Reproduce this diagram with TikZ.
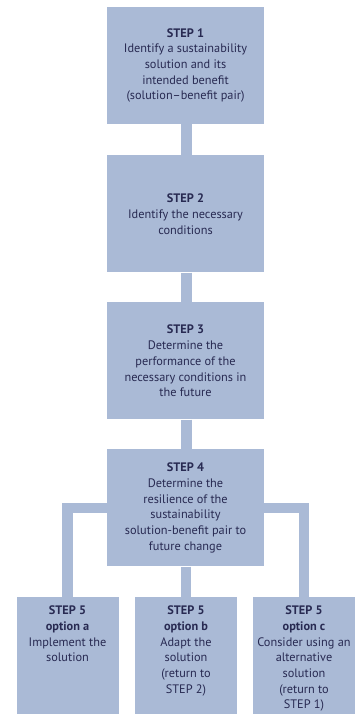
\documentclass[tikz,border=0pt]{standalone}
\usepackage{fontspec}
\setmainfont{PT Sans}
\definecolor{boxblue}{RGB}{170,186,214}
\definecolor{txtnavy}{RGB}{40,42,82}
\begin{document}
\begin{tikzpicture}[x=1pt,y=1pt,
  mainbox/.style={fill=boxblue, draw=none, minimum width=157pt, minimum height=117pt, inner sep=0pt,
    align=center, text=txtnavy, font=\fontsize{12.3}{15.7}\selectfont},
  optbox/.style={fill=boxblue, draw=none, minimum width=102pt, minimum height=117pt, inner sep=0pt},
  opttxt/.style={anchor=north, align=center, text=txtnavy, inner sep=0pt, font=\fontsize{12.3}{15.7}\selectfont},
  conn/.style={draw=boxblue, line width=10.5pt, line cap=butt, line join=miter}
]
\useasboundingbox (0,0) rectangle (357,714);
\node[mainbox] (s1) at (185.5,648.5) {\textbf{STEP 1}\\Identify a sustainability\\solution and its\\intended benefit\\(solution–benefit pair)};
\node[mainbox] (s2) at (185.5,500) {\textbf{STEP 2}\\Identify the necessary\\conditions};
\node[mainbox] (s3) at (185.5,353) {\textbf{STEP 3}\\Determine the\\performance of the\\necessary conditions in\\the future};
\node[mainbox] (s4) at (185.5,206) {\textbf{STEP 4}\\Determine the\\resilience of the\\sustainability\\solution-benefit pair to\\future change};
\node[optbox] (s5a) at (67.5,58.5) {};
\node[optbox] (s5b) at (186,58.5) {};
\node[optbox] (s5c) at (304,58.5) {};
\draw[conn] ([xshift=1pt]s1.south) -- ([xshift=1pt]s2.north);
\draw[conn] ([xshift=1pt]s2.south) -- ([xshift=1pt]s3.north);
\draw[conn] ([xshift=1pt]s3.south) -- ([xshift=1pt]s4.north);
\draw[conn] (s4.west) -| (s5a.north);
\draw[conn] (s4.east) -| (s5c.north);
\draw[conn] (s4.south -| s5b.north) -- (s5b.north);
\node[opttxt] (t5a) at ([yshift=-9pt]s5a.north) {\textbf{STEP 5}\\\textbf{option a}\\Implement the\\solution};
\node[opttxt] (t5b) at ([yshift=-9pt]s5b.north) {\textbf{STEP 5}\\\textbf{option b}\\Adapt the\\solution\\(return to\\STEP 2)};
\node[opttxt] (t5c) at ([yshift=-9pt]s5c.north) {\textbf{STEP 5}\\\textbf{option c}\\Consider using an\\alternative\\solution\\(return to\\STEP 1)};
\end{tikzpicture}
\end{document}
